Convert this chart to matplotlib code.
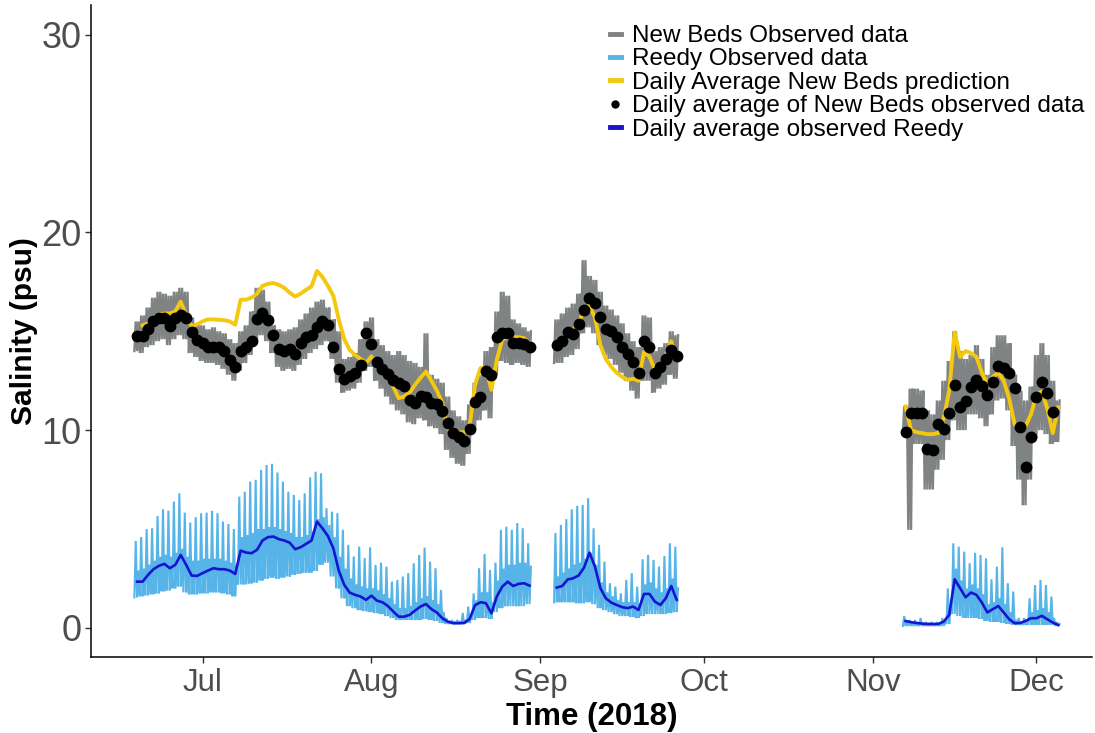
import matplotlib
matplotlib.use("Agg")
import matplotlib.pyplot as plt
import matplotlib.dates as mdates
from matplotlib.lines import Line2D
import numpy as np
import pandas as pd

# three measuring periods (gaps in between)
days_a = pd.date_range("2018-06-19", "2018-08-30")
days_b = pd.date_range("2018-09-04", "2018-09-26")
days_c = pd.date_range("2018-11-07", "2018-12-05")
pred_days_a = pd.date_range("2018-06-20", "2018-08-30")
dot_days_c = pd.date_range("2018-11-07", "2018-12-04")

# New Beds observed, daily low / high of the tidal signal (psu)
nb_hi_a = [15.5, 15.8, 16.2, 16.7, 17.0, 16.9, 16.8, 17.0, 17.2, 17.0,
           15.7, 15.4, 15.3, 15.1, 15.2, 15.0, 14.9, 14.6, 14.4, 15.0, 15.3, 16.0,
           17.2, 17.1, 16.5, 15.3, 15.1, 15.0, 15.1, 15.2, 15.6, 15.9, 16.2, 16.5, 16.6, 16.2, 15.6,
           15.0, 13.6, 13.7, 13.9, 14.6, 15.5, 15.7,
           14.6, 14.3, 14.0, 13.8, 14.0, 13.8, 13.5, 13.4, 13.2, 14.9,
           12.8, 12.6, 12.4, 11.7, 11.0, 10.7, 10.5, 11.3, 12.4, 12.8, 14.0, 14.2,
           16.0, 17.0, 16.8, 15.6, 15.4, 15.2, 15.0]
nb_lo_a = [14.0, 13.9, 14.2, 14.3, 14.5, 14.6, 14.3, 14.6, 14.8, 14.6,
           13.9, 13.7, 13.5, 13.4, 13.4, 13.3, 13.1, 12.8, 12.5, 13.0, 13.4, 13.8,
           14.6, 14.8, 14.5, 13.9, 13.2, 13.0, 13.1, 13.0, 13.3, 13.6, 13.9, 14.1, 14.3, 14.5, 13.6,
           12.4, 11.9, 12.0, 12.1, 12.4, 13.0, 13.2,
           12.5, 12.1, 11.7, 11.3, 11.0, 10.8, 10.4, 10.3, 10.6, 10.5,
           10.2, 10.1, 9.8, 9.0, 8.6, 8.3, 8.2, 8.8, 10.0, 10.5, 11.0, 10.6,
           12.8, 13.5, 13.4, 13.3, 13.4, 13.3, 13.2]
nb_hi_b = [15.6, 15.9, 16.2, 16.4, 16.9, 18.6, 17.8, 17.6, 17.0, 16.3, 16.1, 15.8,
           15.4, 14.9, 14.5, 14.2, 15.8, 15.7, 14.0, 14.2, 14.4, 15.0, 14.8]
nb_lo_b = [13.4, 13.4, 13.7, 13.8, 14.1, 14.9, 15.2, 14.9, 14.3, 13.8, 13.6, 13.3,
           12.9, 12.5, 12.0, 11.6, 12.5, 12.5, 11.9, 12.1, 12.3, 12.8, 12.6]
nb_hi_c = [11.2, 12.1, 12.1, 12.0, 11.0, 10.8, 11.5, 12.5, 13.5, 15.0, 14.0, 13.6,
           13.8, 14.3, 13.6, 12.8, 14.2, 14.8, 14.8, 14.4, 12.8, 12.0, 11.5, 12.2,
           13.8, 14.4, 13.8, 12.5, 11.5]
nb_lo_c = [9.8, 4.96, 9.3, 9.3, 7.0, 7.0, 8.0, 8.5, 9.5, 10.5, 10.0, 10.0,
           10.8, 10.8, 10.6, 10.2, 10.8, 11.5, 11.6, 11.0, 9.2, 7.5, 6.2, 7.5,
           9.6, 10.0, 9.8, 9.3, 9.4]

# Reedy observed: daily low, higher high tide, lower high tide (psu)
rd_hi_a = [4.4, 4.6, 5.0, 5.04, 5.66, 6.0, 5.93, 6.39, 6.81, 5.83, 5.33, 5.6, 5.8,
           5.83, 5.92, 5.8, 5.38, 5.26, 5.0, 6.64, 6.89, 7.4, 7.49, 7.99, 8.24, 8.3,
           7.86, 7.4, 6.89, 6.73, 6.47, 6.81, 7.62, 7.9, 7.82, 6.05, 5.88, 5.8, 4.96,
           4.2, 3.61, 4.11, 3.53, 4.08, 3.19, 3.3, 3.1, 2.34, 2.43, 2.6, 2.77, 3.27,
           3.69, 4.06, 3.35, 3.02, 1.92, 0.5, 0.4, 0.4, 0.76, 1.08, 1.75, 3.02, 3.74,
           2.93, 3.3, 4.96, 5.12, 4.96, 5.3, 5.04, 4.28]
rd_mid_a = [2.9, 3.0, 3.2, 3.4, 3.6, 3.7, 3.6, 3.8, 4.0,
            3.6, 3.4, 3.4, 3.5, 3.5, 3.5, 3.5, 3.4, 3.3, 3.2,
            4.6, 4.7, 4.8, 5.0, 5.0, 5.1, 5.1, 5.0, 4.9, 4.8, 4.6, 4.6, 4.7, 4.9,
            5.5, 5.6, 5.2, 4.6,
            3.6, 3.0, 2.5, 2.2, 2.1, 2.0, 2.0, 1.9, 1.7, 1.5, 1.2,
            1.0, 1.0, 1.1, 1.3, 1.5, 1.6, 1.4, 1.2, 0.8,
            0.35, 0.3, 0.3, 0.35, 0.6,
            1.4, 1.8, 1.8, 1.3,
            2.4, 3.0, 3.2, 3.2, 3.3, 3.3, 3.1]
rd_lo_a = [1.55, 1.6, 1.65, 1.7, 1.75, 1.85, 1.9, 2.0, 2.1,
           1.8, 1.7, 1.7, 1.75, 1.75, 1.8, 1.8, 1.75, 1.7, 1.6,
           2.2, 2.2, 2.25, 2.3, 2.4, 2.5, 2.55, 2.5, 2.55, 2.6, 2.7, 2.75, 2.8, 2.8,
           2.9, 3.2, 3.3, 2.6,
           2.0, 1.5, 1.1, 1.0, 0.9, 0.85, 0.8, 0.75, 0.7, 0.6, 0.5,
           0.4, 0.4, 0.4, 0.4, 0.4, 0.45, 0.4, 0.35, 0.25,
           0.2, 0.2, 0.2, 0.2, 0.25,
           0.4, 0.5, 0.5, 0.45,
           0.8, 1.0, 1.1, 1.1, 1.1, 1.1, 1.2]
rd_hi_b = [4.8, 5.21, 5.5, 6.0, 6.17, 6.22, 6.56, 5.04, 4.2, 3.35, 2.26, 2.09,
           1.75, 2.43, 2.77, 2.09, 3.47, 3.69, 3.44, 3.1, 3.64, 4.28, 4.11]
rd_mid_b = [2.6, 2.8, 3.0, 3.2, 3.3, 3.5, 3.8, 3.2, 2.3, 1.8, 1.6, 1.4,
            1.3, 1.3, 1.3, 1.2, 2.2, 2.3, 2.0, 1.8, 2.0, 2.5, 2.0]
rd_lo_b = [1.3, 1.3, 1.3, 1.3, 1.25, 1.25, 1.3, 1.2, 1.0, 0.9, 0.8, 0.7,
           0.6, 0.6, 0.55, 0.5, 0.6, 0.7, 0.7, 0.7, 0.7, 0.75, 0.8]
rd_hi_c = [0.6, 0.4, 0.4, 0.5, 0.3, 0.3, 0.3, 0.5, 2.0, 4.28, 4.11, 3.86, 3.27,
           3.8, 3.69, 3.52, 2.46, 3.1, 4.08, 2.26, 1.84, 0.5, 0.5, 1.5, 2.17, 2.43,
           2.17, 1.59, 0.3]
rd_mid_c = [0.3, 0.25, 0.2, 0.2, 0.2, 0.2, 0.2, 0.3, 1.0, 3.0, 2.4, 2.0, 2.2,
            2.0, 1.7, 1.2, 1.3, 1.5, 1.2, 0.8, 0.4, 0.3, 0.3, 0.8, 0.9, 1.0,
            0.8, 0.5, 0.2]
rd_lo_c = [0.1, 0.1, 0.1, 0.1, 0.1, 0.1, 0.1, 0.1, 0.2, 0.7, 0.6, 0.5, 0.5,
           0.5, 0.45, 0.35, 0.3, 0.3, 0.25, 0.2, 0.15, 0.15, 0.15, 0.15, 0.15,
           0.15, 0.15, 0.15, 0.1]

# daily averages
nb_avg_a = [14.77, 14.77, 15.1, 15.5, 15.66, 15.66, 15.27, 15.66, 15.83, 15.66,
            14.97, 14.57, 14.43, 14.23, 14.23, 14.23, 13.98, 13.56, 13.18, 13.98,
            14.23, 14.53, 15.63, 15.91, 15.58, 14.8, 14.13, 13.98, 14.1, 13.86,
            14.43, 14.7, 14.8, 15.21, 15.5, 15.33, 14.23, 13.09, 12.6, 12.75,
            12.88, 13.32, 14.9, 14.35, 13.47, 13.09, 12.85, 12.54, 12.38, 12.21,
            11.53, 11.37, 11.75, 11.67, 11.37, 11.33, 10.99, 10.35, 9.88, 9.68,
            9.47, 10.08, 11.4, 11.7, 13.0, 12.8, 14.7, 14.9, 14.9, 14.4,
            14.4, 14.35, 14.23]
nb_avg_b = [14.3, 14.5, 14.94, 14.87, 15.38, 16.08, 16.7, 16.45, 15.7, 15.1, 15.0,
            14.7, 14.23, 13.86, 13.47, 12.91, 14.53, 14.2, 12.91, 13.18, 13.58,
            14.06, 13.76]
nb_avg_c = [9.93, 10.89, 10.89, 10.89, 9.04, 9.0, 10.3, 10.05, 10.86, 12.29, 11.16,
            11.45, 12.18, 12.54, 12.24, 11.79, 12.46, 13.22, 13.14, 12.91, 12.12,
            10.18, 8.16, 9.65, 11.7, 12.46, 11.9, 10.91]

nb_pred_a = [15.3, 15.4, 15.7, 15.85, 15.9, 15.9, 16.0, 16.5, 15.8, 15.25, 15.35,
             15.5, 15.6, 15.6, 15.58, 15.56, 15.5, 15.33, 16.6, 16.6, 16.7, 16.9,
             17.3, 17.4, 17.44, 17.35, 17.2, 16.95, 16.76, 16.9, 17.1, 17.27, 18.05,
             17.75, 17.3, 16.8, 15.6, 14.6, 14.06, 13.8, 13.6, 13.4, 13.73, 13.35,
             13.0, 12.8, 12.21, 11.62, 11.7, 11.9, 12.3, 12.65, 12.97, 12.5, 12.0,
             11.37, 10.1, 9.9, 9.88, 9.9, 10.19, 12.29, 13.14, 13.14, 12.04, 13.56,
             14.6, 14.68, 14.7, 14.7, 14.65, 14.4]
nb_pred_b = [14.4, 14.65, 14.85, 15.07, 15.4, 16.1, 16.3, 15.7, 14.3, 13.6, 13.2,
             12.9, 12.7, 12.54, 12.6, 12.5, 13.95, 13.73, 13.05, 13.2, 13.8, 14.5,
             13.56]
nb_pred_c = [11.2, 10.0, 9.9, 9.85, 9.8, 9.8, 9.85, 10.6, 12.0, 14.95, 13.7, 14.0,
             13.9, 13.7, 12.9, 12.3, 12.7, 12.9, 12.5, 11.6, 10.3, 10.0, 10.2, 10.8,
             11.8, 11.95, 11.1, 9.85, 11.16]

rd_avg_a = [2.34, 2.34, 2.68, 2.97, 3.14, 3.24, 3.02, 3.19, 3.69, 3.19, 2.65, 2.63,
            2.77, 2.9, 3.02, 2.97, 2.97, 2.9, 2.73, 3.91, 3.81, 3.78, 3.95, 4.42,
            4.59, 4.62, 4.49, 4.42, 4.31, 3.98, 4.08, 4.25, 4.42, 5.38, 5.04, 4.65,
            4.03, 2.9, 2.18, 1.79, 1.67, 1.59, 1.42, 1.63, 1.38, 1.3, 1.11, 0.83,
            0.57, 0.57, 0.66, 0.88, 1.08, 1.21, 0.95, 0.78, 0.49, 0.32, 0.24, 0.24,
            0.25, 0.45, 1.15, 1.3, 1.25, 0.74, 1.59, 2.09, 2.34, 2.12, 2.23, 2.26, 2.14]
rd_avg_b = [2.04, 2.12, 2.45, 2.51, 2.65, 3.05, 3.81, 3.1, 2.01, 1.5, 1.28, 1.16,
            1.05, 1.0, 1.08, 0.91, 1.72, 1.72, 1.33, 1.16, 1.5, 2.12, 1.42]
rd_avg_c = [0.35, 0.29, 0.25, 0.22, 0.2, 0.2, 0.2, 0.32, 0.66, 2.46, 2.01, 1.55,
            1.79, 1.67, 1.28, 0.78, 0.95, 1.11, 0.78, 0.44, 0.24, 0.25, 0.35, 0.49,
            0.49, 0.61, 0.44, 0.27, 0.15]

GREY = "#7f8383"
LIGHTBLUE = "#56b4e9"
YELLOW = "#f3c80f"
DARKBLUE = "#1414d2"


def tide(ax, days, lo, hi, mid, color, lw):
    # two tides per day: low, high, low, second high
    t = mdates.date2num(days)
    tt = (t[:, None] + np.array([-0.5, -0.25, 0.0, 0.25])).ravel()
    yy = np.column_stack([lo, hi, lo, mid]).ravel()
    ax.plot(tt, yy, color=color, lw=lw, solid_joinstyle="miter")


plt.rcParams["font.family"] = ["Liberation Sans", "DejaVu Sans"]
fig = plt.figure(figsize=(10.95, 7.33), dpi=100)
ax = fig.add_axes([91 / 1095, 1 - 657 / 733, 1001 / 1095, 652 / 733])

for d, lo, hi in [(days_a, nb_lo_a, nb_hi_a), (days_b, nb_lo_b, nb_hi_b), (days_c, nb_lo_c, nb_hi_c)]:
    tide(ax, d, lo, hi, hi, GREY, 1.7)
for d, lo, hi, mid in [(days_a, rd_lo_a, rd_hi_a, rd_mid_a), (days_b, rd_lo_b, rd_hi_b, rd_mid_b),
                       (days_c, rd_lo_c, rd_hi_c, rd_mid_c)]:
    tide(ax, d, lo, hi, mid, LIGHTBLUE, 1.5)

for d, v in [(pred_days_a, nb_pred_a), (days_b, nb_pred_b), (days_c, nb_pred_c)]:
    ax.plot(d, v, color=YELLOW, lw=2.8, solid_joinstyle="round")
for d, v in [(days_a, nb_avg_a), (days_b, nb_avg_b), (dot_days_c, nb_avg_c)]:
    ax.plot(d, v, "o", color="black", ms=7.5, ls="none")
for d, v in [(days_a, rd_avg_a), (days_b, rd_avg_b), (days_c, rd_avg_c)]:
    ax.plot(d, v, color=DARKBLUE, lw=1.9)

jul1 = mdates.date2num(pd.Timestamp("2018-07-01"))
ax.set_xlim(jul1 - 20.46, jul1 + 163.2)
ax.set_ylim(-1.47, 31.5)
ax.set_yticks([0, 10, 20, 30])
ax.xaxis.set_major_locator(mdates.MonthLocator())
ax.xaxis.set_major_formatter(mdates.DateFormatter("%b"))

for s in ["top", "right"]:
    ax.spines[s].set_visible(False)
for s in ["left", "bottom"]:
    ax.spines[s].set_linewidth(1.1)
ax.tick_params(axis="both", labelcolor="#4d4d4d", color="#333333", length=4, width=1, pad=4)
ax.tick_params(axis="x", labelsize=22.5)
ax.tick_params(axis="y", labelsize=26, pad=3)

ax.set_xlabel("Time (2018)", fontsize=22.5, fontweight="bold", labelpad=3)
ax.set_ylabel("Salinity (psu)", fontsize=21.5, fontweight="bold", labelpad=2)

handles = [
    Line2D([], [], color=GREY, lw=3.5),
    Line2D([], [], color=LIGHTBLUE, lw=3.5),
    Line2D([], [], color=YELLOW, lw=3.5),
    Line2D([], [], color="black", marker="o", ms=5, ls="none"),
    Line2D([], [], color=DARKBLUE, lw=3.5),
]
labels = ["New Beds Observed data", "Reedy Observed data", "Daily Average New Beds prediction",
          "Daily average of New Beds observed data", "Daily average observed Reedy"]
fig.legend(handles, labels, loc="upper left", bbox_to_anchor=(610 / 1095, 1 - 25 / 733),
           frameon=False, fontsize=17.5, handlelength=0.45, handletextpad=0.45,
           labelspacing=0.06, borderpad=0, borderaxespad=0)

fig.savefig("out.png", dpi=100)
